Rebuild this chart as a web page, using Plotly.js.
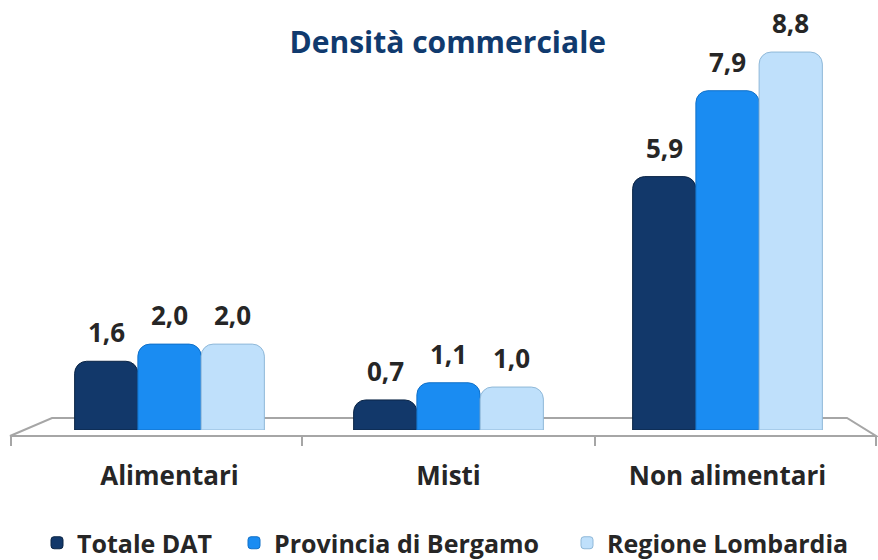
<!DOCTYPE html>
<html><head><meta charset="utf-8">
<script src="https://cdn.plot.ly/plotly-3.0.1.min.js"></script>
<style>html,body{margin:0;padding:0;background:#fff}#chart{width:878px;height:560px}</style>
</head><body><div id="chart"></div>
<script>
const categories = ["Alimentari", "Misti", "Non alimentari"];
const seriesNames = ["Totale DAT", "Provincia di Bergamo", "Regione Lombardia"];
const totaleDAT = [1.6, 0.7, 5.9];
const provinciaBergamo = [2.0, 1.1, 7.9];
const regioneLombardia = [2.0, 1.0, 8.8];
const seriesValues = [totaleDAT, provinciaBergamo, regioneLombardia];
const colors = ["#12386a", "#1a8cf2", "#bfe0fb"];
const lineColors = ["#0a2445", "#1070c8", "#8fb8d8"];

const W = 878, H = 560, L = 30, R = 11, T = 22, B = 130;
const pw = W - L - R, ph = H - T - B;
const px = x => (x - L) / pw;
const py = y => (H - B - y) / ph;

const FONT = "'Open Sans', Lato, sans-serif";
const bargap = 0.32;
const bw = (1 - bargap) / 3;
const legendNames = ["legend", "legend2", "legend3"];
const legendLeft = [37, 234, 567];

const traces = seriesValues.map((vals, i) => ({
  type: "bar",
  name: seriesNames[i],
  x: categories,
  y: vals,
  legend: legendNames[i],
  marker: {color: colors[i], cornerradius: 12, line: {color: lineColors[i], width: 1}},
  hoverinfo: "none"
}));

const annotations = [];
seriesValues.forEach((vals, i) => {
  vals.forEach((v, j) => {
    annotations.push({
      x: j + (i - 1) * bw, y: v, xref: "x", yref: "y",
      text: v.toFixed(1).replace(".", ","),
      showarrow: false, yanchor: "bottom", yshift: 9,
      font: {family: FONT, size: 26, color: "#262626", weight: 700}
    });
  });
});

const gray = "#a6a6a6";
const shapes = [
  {type: "path", xref: "paper", yref: "paper", layer: "below",
   path: `M ${px(10)} ${py(436)} L ${px(52)} ${py(418)} L ${px(847)} ${py(418)} L ${px(876)} ${py(436)} Z`,
   fillcolor: "#ffffff", line: {color: gray, width: 2}},
];
[11, 302, 595, 876].forEach(x => shapes.push({
  type: "line", xref: "paper", yref: "paper",
  x0: px(x), x1: px(x), y0: py(436), y1: py(446), line: {color: gray, width: 2}
}));

const layout = {
  width: W, height: H,
  margin: {l: L, r: R, t: T, b: B, autoexpand: false},
  paper_bgcolor: "#ffffff", plot_bgcolor: "rgba(0,0,0,0)",
  barmode: "group", bargap: bargap, bargroupgap: 0,
  title: {text: "Densità commerciale", x: 0.51, xanchor: "center", y: 0.925, yanchor: "middle",
          font: {family: FONT, size: 30, color: "#103a6e", weight: 700}},
  xaxis: {type: "category", range: [-0.5, 2.5], showline: false, showgrid: false, zeroline: false,
          ticks: "", ticklabelstandoff: 28, automargin: false,
          tickfont: {family: FONT, size: 26, color: "#262626", weight: 700}},
  yaxis: {range: [0, 9.5], visible: false, showgrid: false, zeroline: false, automargin: false},
  showlegend: true,
  shapes: shapes,
  annotations: annotations
};
legendNames.forEach((ln, i) => {
  layout[ln] = {orientation: "h", x: px(legendLeft[i]), xanchor: "left", y: py(543), yanchor: "middle",
                font: {family: FONT, size: 25, color: "#262626", weight: 700},
                itemwidth: 30, bgcolor: "rgba(0,0,0,0)"};
});

Plotly.newPlot("chart", traces, layout, {displayModeBar: false, staticPlot: true});
</script>
</body></html>
